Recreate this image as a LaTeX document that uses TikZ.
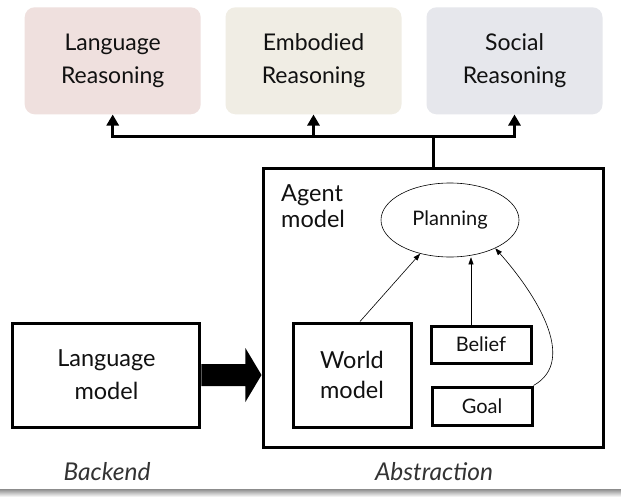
\documentclass[tikz,border=0pt]{standalone}
\usepackage{fontspec}
\setmainfont{Lato}
\usetikzlibrary{shapes.geometric,arrows.meta,calc}
\definecolor{lrfill}{HTML}{EFE0DE}
\definecolor{erfill}{HTML}{F0EDE4}
\definecolor{srfill}{HTML}{E6E7EC}
\definecolor{txt}{HTML}{111111}
\tikzset{
  topbox/.style={rounded corners=10pt, minimum width=176pt, minimum height=107pt, align=center, inner sep=0pt, font=\fontsize{23}{33}\selectfont, text=txt},
  heavybox/.style={draw=black, line width=3pt, align=center, inner sep=0pt, text=txt},
  smalltext/.style={font=\fontsize{20}{24}\selectfont},
  heavyline/.style={line width=3pt},
  heavytip/.style={-{Triangle[width=12pt,length=11pt]}},
  thinarrow/.style={line width=0.6pt, -{Triangle[width=5pt,length=7pt]}},
  caption/.style={font=\fontsize{24.5}{28}\selectfont\itshape, text=black!80}
}
\begin{document}
\begin{tikzpicture}[x=1pt,y=-1pt]
\useasboundingbox (0,0) rectangle (621,498);
\fill[white] (0,0) rectangle (621,498);
\shade[top color=black!45, bottom color=white] (0,489) rectangle (621,497);

% top boxes
\node[topbox, fill=lrfill] (lr) at (112.7,60.8) {Language\\Reasoning};
\node[topbox, fill=erfill] (er) at (313.5,60.8) {Embodied\\Reasoning};
\node[topbox, fill=srfill] (sr) at (514.5,60.8) {Social\\Reasoning};

% abstraction box
\node[heavybox, minimum width=340pt, minimum height=279pt] (abs) at (433,307.5) {};
\node[anchor=north west, align=left, inner sep=0pt, font=\fontsize{23.5}{26}\selectfont, text=txt] (agent) at (281,184) {Agent\\model};

% planning
\node[draw=black, line width=0.6pt, ellipse, minimum width=138pt, minimum height=74pt, inner sep=0pt, smalltext, text=txt] (plan) at (450,220) {Planning};

% inner boxes
\node[heavybox, minimum width=118pt, minimum height=104pt, font=\fontsize{23.5}{30}\selectfont] (wm) at (352,375) {World\\model};
\node[heavybox, minimum width=100pt, minimum height=37pt, smalltext] (bel) at (481,344.5) {Belief};
\node[heavybox, minimum width=100pt, minimum height=38pt, smalltext] (goal) at (482,406) {Goal};

% language model
\node[heavybox, minimum width=187pt, minimum height=104pt, font=\fontsize{23.5}{33}\selectfont] (lm) at (106.4,375) {Language\\model};

% captions
\node[caption] (backend) at (107,472) {Backend};
\node[caption] (abstr) at (434,472) {Abstraction};

% top connectors
\coordinate (j) at ($(abs.north)+(0,-30)$);
\draw[heavyline] (abs.north) -- (j);
\draw[heavyline, heavytip] (j) -| (lr.south);
\draw[heavyline, heavytip] (j) -| (sr.south);
\draw[heavyline, heavytip] (er.south |- j) -- (er.south);

% big arrow
\fill[black] ($(lm.east)+(0,-11)$) -- ($(lm.east)+(44,-11)$) -- ($(lm.east)+(44,-27)$) -- (abs.west |- lm.east)
  -- ($(lm.east)+(44,27)$) -- ($(lm.east)+(44,11)$) -- ($(lm.east)+(0,11)$) -- cycle;

% inner arrows
\coordinate (wt) at ($(wm.north)+(8,0)$);
\coordinate (bt) at ($(bel.north)+(-10,0)$);
\draw[thinarrow] (wt) -- (plan);
\draw[thinarrow] (bt) -- (bt |- plan.south);
\draw[thinarrow] (goal.north east) .. controls +(45,-25) and +(40,45) .. (plan.-32);
\end{tikzpicture}
\end{document}
